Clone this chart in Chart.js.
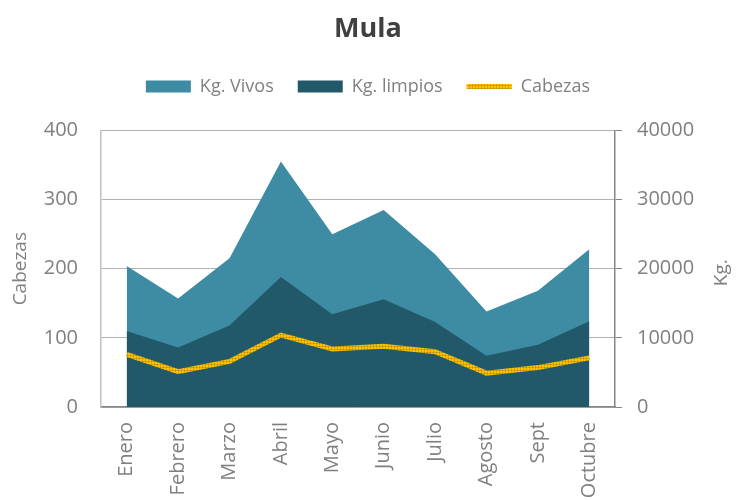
<!DOCTYPE html>
<html>
<head>
<meta charset="utf-8">
<script src="https://cdn.jsdelivr.net/npm/chart.js@4"></script>
<style>
  html, body { margin: 0; padding: 0; background: #fff; overflow: hidden; }
</style>
</head>
<body>
<canvas id="myChart" width="736" height="500"></canvas>
<script>
// datos
const meses = ["Enero", "Febrero", "Marzo", "Abril", "Mayo", "Junio", "Julio", "Agosto", "Sept", "Octubre"];
const kgVivos = [20400, 15700, 21500, 35500, 25000, 28500, 22100, 13800, 16800, 22800];
const kgLimpios = [11000, 8600, 11800, 18800, 13400, 15600, 12300, 7400, 9000, 12400];
const cabezas = [76, 51, 66, 104, 84, 88, 80, 49, 57, 71];
const ticksCabezas = [0, 100, 200, 300, 400];
const ticksKg = [0, 10000, 20000, 30000, 40000];

const gris = "#808080";
Chart.defaults.font.family = "'Open Sans', sans-serif";

// textura amarilla de la linea Cabezas
function patronCabezas(ctx) {
  const c = document.createElement("canvas");
  c.width = 3;
  c.height = 3;
  const g = c.getContext("2d");
  g.fillStyle = "#ffc000";
  g.fillRect(0, 0, 3, 3);
  g.fillStyle = "#dcaa00";
  g.fillRect(1, 0, 1, 3);
  g.fillRect(0, 1, 3, 1);
  g.fillStyle = "#b08a10";
  g.fillRect(1, 1, 1, 1);
  return ctx.createPattern(c, "repeat");
}

const lienzo = document.getElementById("myChart");
const patron = patronCabezas(lienzo.getContext("2d"));

// mas espacio debajo de la leyenda
const espacioLeyenda = {
  id: "espacioLeyenda",
  beforeInit(chart) {
    const fitOriginal = chart.legend.fit;
    chart.legend.fit = function () {
      fitOriginal.bind(chart.legend)();
      this.height += 25;
    };
  }
};

// titulo del eje derecho (girado como en Excel)
const tituloKg = {
  id: "tituloKg",
  afterDraw(chart) {
    const ctx = chart.ctx;
    const eje = chart.scales.yKg;
    ctx.save();
    ctx.translate(eje.right - 14, (chart.chartArea.top + chart.chartArea.bottom) / 2 + 4);
    ctx.rotate(-Math.PI / 2);
    ctx.textAlign = "center";
    ctx.textBaseline = "middle";
    ctx.font = "19px 'Open Sans'";
    ctx.fillStyle = gris;
    ctx.fillText("Kg.", 0, 0);
    ctx.restore();
  }
};

let myChart = new Chart(lienzo, {
  type: "line",
  data: {
    labels: meses,
    datasets: [
      {
        label: "Kg. Vivos",
        data: kgVivos,
        yAxisID: "yKg",
        backgroundColor: "#3d8ca3",
        borderColor: "#3d8ca3",
        borderWidth: 0,
        fill: "origin",
        pointRadius: 0,
        pointStyle: "rect",
        order: 3
      },
      {
        label: "Kg. limpios",
        data: kgLimpios,
        yAxisID: "yKg",
        backgroundColor: "#22596a",
        borderColor: "#22596a",
        borderWidth: 0,
        fill: "origin",
        pointRadius: 0,
        pointStyle: "rect",
        order: 2
      },
      {
        label: "Cabezas",
        data: cabezas,
        yAxisID: "yCab",
        backgroundColor: patron,
        borderColor: patron,
        borderWidth: 5,
        fill: false,
        pointRadius: 0,
        pointStyle: "line",
        order: 1
      }
    ]
  },
  options: {
    responsive: false,
    animation: false,
    events: [],
    plugins: {
      title: {
        display: true,
        text: "Mula",
        color: "#404040",
        font: { size: 27, weight: "bold" },
        padding: { top: 13, bottom: 8 }
      },
      legend: {
        labels: {
          usePointStyle: true,
          pointStyleWidth: 45,
          boxHeight: 12,
          padding: 24,
          color: gris,
          font: { size: 18 },
          sort: (a, b) => a.datasetIndex - b.datasetIndex
        }
      },
      tooltip: { enabled: false }
    },
    scales: {
      x: {
        offset: true,
        grid: { display: false, drawTicks: false },
        border: { color: "#868686", width: 1.5 },
        ticks: {
          color: gris,
          font: { size: 20 },
          minRotation: 90,
          maxRotation: 90,
          autoSkip: false,
          padding: 15
        },
        afterFit: (s) => { s.height = 93; }
      },
      yCab: {
        position: "left",
        min: 0,
        max: 400,
        afterBuildTicks: (s) => { s.ticks = ticksCabezas.map((v) => ({ value: v })); },
        grid: { color: "#b0b0b0", drawTicks: false },
        border: { color: "#bfbfbf", width: 1.5 },
        ticks: { color: gris, font: { size: 20 }, padding: 23 },
        title: {
          display: true,
          text: "Cabezas",
          color: gris,
          font: { size: 19 },
          padding: { top: 9, bottom: 0 }
        },
        afterFit: (s) => { s.width = 101; }
      },
      yKg: {
        position: "right",
        min: 0,
        max: 40000,
        afterBuildTicks: (s) => { s.ticks = ticksKg.map((v) => ({ value: v })); },
        grid: { drawOnChartArea: false, tickLength: 7, color: "#868686" },
        border: { color: "#868686", width: 1.5 },
        ticks: { color: gris, font: { size: 20 }, padding: 15, callback: (v) => String(v) },
        afterFit: (s) => { s.width = 121; }
      }
    }
  },
  plugins: [espacioLeyenda, tituloKg]
});
</script>
</body>
</html>
